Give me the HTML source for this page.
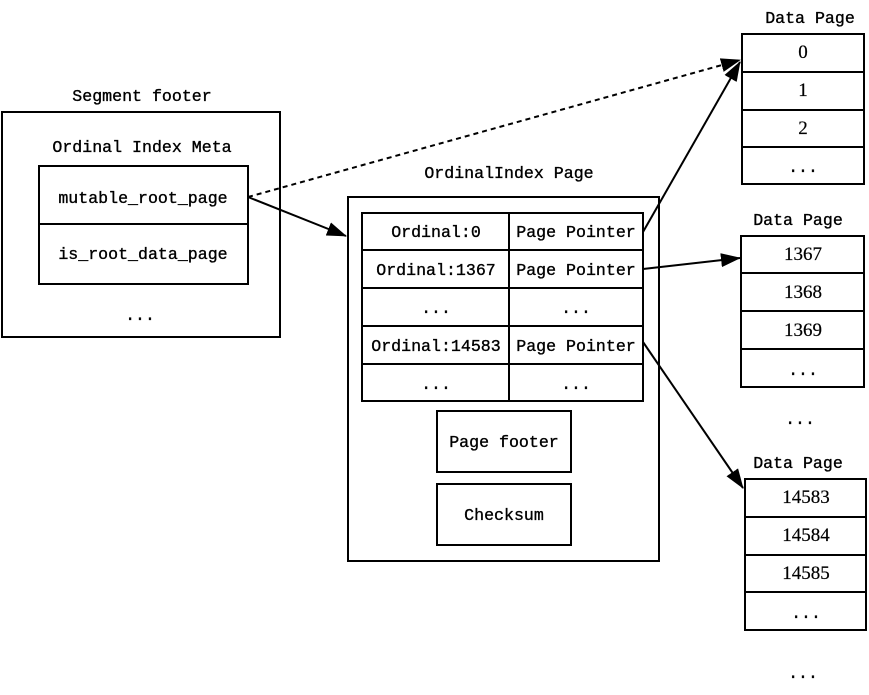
<!DOCTYPE html>
<html><head><meta charset="utf-8"><style>
html,body{margin:0;padding:0;background:#fff;}
svg text{font-family:"Liberation Mono","Noto Serif CJK SC",monospace;font-size:16.6px;fill:#000;stroke:#000;stroke-width:0.35px;}
svg text.n{font-family:"Liberation Serif",serif;font-size:19px;stroke-width:0.2px;}
</style></head><body>
<svg width="869" height="690" xmlns="http://www.w3.org/2000/svg">
<defs>
<marker id="b" markerWidth="20" markerHeight="14" refX="19" refY="7" orient="auto" markerUnits="userSpaceOnUse" viewBox="0 0 20 14"><path d="M0,0 L20,7 L0,14 z" fill="#000"/></marker></defs>
<g fill="none" stroke="#000" stroke-width="2">
<rect x="2" y="112" width="278" height="225"/>
<rect x="39" y="166" width="209" height="118"/><line x1="39" y1="224" x2="248" y2="224"/>
<rect x="348" y="197" width="311" height="364"/>
<rect x="362" y="213" width="281" height="188"/>
<line x1="509" y1="213" x2="509" y2="401"/>
<line x1="362" y1="250" x2="643" y2="250"/><line x1="362" y1="288" x2="643" y2="288"/>
<line x1="362" y1="326" x2="643" y2="326"/><line x1="362" y1="364" x2="643" y2="364"/>
<rect x="437" y="411" width="134" height="61"/>
<rect x="437" y="484" width="134" height="61"/>
<rect x="742" y="34" width="122" height="150"/>
<line x1="742" y1="72" x2="864" y2="72"/><line x1="742" y1="110" x2="864" y2="110"/><line x1="742" y1="147" x2="864" y2="147"/>
<rect x="741" y="236" width="123" height="151"/>
<line x1="741" y1="273" x2="864" y2="273"/><line x1="741" y1="311" x2="864" y2="311"/><line x1="741" y1="349" x2="864" y2="349"/>
<rect x="745" y="479" width="121" height="151"/>
<line x1="745" y1="517" x2="866" y2="517"/><line x1="745" y1="555" x2="866" y2="555"/><line x1="745" y1="592" x2="866" y2="592"/>
<line x1="248" y1="197" x2="740" y2="60" stroke-dasharray="5,4" marker-end="url(#b)"/>
<line x1="248" y1="197" x2="346" y2="236" marker-end="url(#b)"/>
<line x1="643" y1="232" x2="740" y2="62" marker-end="url(#b)"/>
<line x1="643" y1="269" x2="740" y2="258" marker-end="url(#b)"/>
<line x1="643" y1="342" x2="743" y2="488" marker-end="url(#b)"/>
</g>
<g text-anchor="middle">
<text x="142" y="101">Segment footer</text>
<text x="142" y="152">Ordinal Index Meta</text>
<text x="143" y="203">mutable_root_page</text>
<text x="143" y="259">is_root_data_page</text>
<text x="140" y="320">...</text>
<text x="509" y="178">OrdinalIndex Page</text>
<text x="436" y="237">Ordinal:0</text><text x="576" y="237">Page Pointer</text>
<text x="436" y="275">Ordinal:1367</text><text x="576" y="275">Page Pointer</text>
<text x="436" y="313">...</text><text x="576" y="313">...</text>
<text x="436" y="351">Ordinal:14583</text><text x="576" y="351">Page Pointer</text>
<text x="436" y="389">...</text><text x="576" y="389">...</text>
<text x="504" y="447">Page footer</text>
<text x="504" y="520">Checksum</text>
<text x="810" y="23">Data Page</text>
<text class="n" x="803" y="58">0</text><text class="n" x="803" y="96">1</text><text class="n" x="803" y="134">2</text><text x="803" y="172">...</text>
<text x="798" y="225">Data Page</text>
<text class="n" x="803" y="260">1367</text><text class="n" x="803" y="298">1368</text><text class="n" x="803" y="336">1369</text><text x="803" y="375">...</text>
<text x="800" y="424">...</text>
<text x="798" y="468">Data Page</text>
<text class="n" x="806" y="503">14583</text><text class="n" x="806" y="541">14584</text><text class="n" x="806" y="579">14585</text><text x="806" y="618">...</text>
<text x="803" y="678">...</text>
</g>
</svg>
</body></html>
